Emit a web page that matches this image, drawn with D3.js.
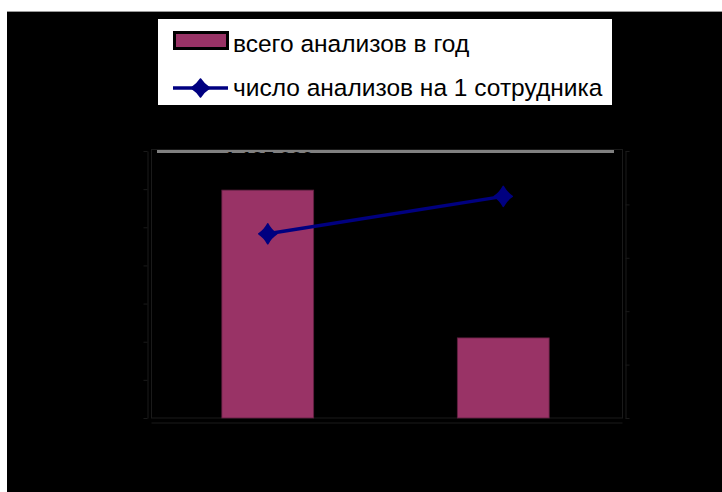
<!DOCTYPE html>
<html>
<head>
<meta charset="utf-8">
<script src="https://cdn.jsdelivr.net/npm/d3@7"></script>
<style>
  body { margin: 0; background: #fff; }
  svg { display: block; font-family: 'Liberation Sans', Arial, sans-serif; }
</style>
</head>
<body>
<div class="canvas"></div>
<script>
const categories = ['2009', '2010'];
const totalTests = [1195000, 420000];
const testsPerEmployee = [3450, 4150];
const leftTicks = [0, 200000, 400000, 600000, 800000, 1000000, 1200000, 1400000];
const rightTicks = [0, 1000, 2000, 3000, 4000, 5000];
const legendLabels = ['всего анализов в год', 'число анализов на 1 сотрудника'];

const width = 722, height = 492;
const plotL = 151, plotR = 622, plotT = 151, plotB = 418;

const svg = d3.select('.canvas')
    .append('svg')
    .attr('width', width)
    .attr('height', height)
    ;

// black panel
svg.append('rect')
    .attr('x', 7).attr('y', 11)
    .attr('width', width - 7).attr('height', height - 11)
    .attr('fill', '#000');
svg.append('line')
    .attr('x1', 7).attr('x2', width).attr('y1', 11.5).attr('y2', 11.5)
    .attr('stroke', '#9a9a9a');

const xScale = d3.scaleBand()
    .domain(categories)
    .range([plotL, plotR])
    ;
const barW = xScale.bandwidth() * 0.39;

const yLeft = d3.scaleLinear()
    .domain([0, d3.max(leftTicks)])
    .range([plotB, plotT])
    ;
const yRight = d3.scaleLinear()
    .domain([0, d3.max(rightTicks)])
    .range([plotB, plotT])
    ;

// plot area frame
svg.append('rect')
    .attr('x', plotL + 0.5).attr('y', plotT - 1.5)
    .attr('width', plotR - plotL).attr('height', plotB - plotT + 1.5)
    .attr('fill', 'none')
    .attr('stroke', '#1a1a1a');

// gridline at the top value
svg.append('rect')
    .attr('x', plotL + 6).attr('y', yLeft(d3.max(leftTicks)) - 1)
    .attr('width', plotR - plotL - 14).attr('height', 3)
    .attr('fill', '#808080');

//Add axes
const axisColor = '#1a1a1a';
svg.append('g')
    .attr('transform', `translate(147.5, 0)`)
    .call(d3.axisLeft(yLeft).tickValues(leftTicks).tickSize(4).tickSizeOuter(0)
        .tickFormat(d => d3.format(',')(d).replace(/,/g, ' ')))
    .call(g => g.select('.domain').attr('stroke', axisColor))
    .call(g => g.selectAll('.tick line').attr('stroke', axisColor))
    .call(g => g.selectAll('.tick text').attr('fill', '#000').attr('font-size', 14))
    ;
svg.append('g')
    .attr('transform', `translate(625.5, 0)`)
    .call(d3.axisRight(yRight).tickValues(rightTicks).tickSize(4).tickSizeOuter(0))
    .call(g => g.select('.domain').attr('stroke', axisColor))
    .call(g => g.selectAll('.tick line').attr('stroke', axisColor))
    .call(g => g.selectAll('.tick text').attr('fill', '#000').attr('font-size', 14))
    ;
svg.append('g')
    .attr('transform', `translate(0, 422.5)`)
    .call(d3.axisBottom(xScale).tickSize(0).tickSizeOuter(0))
    .call(g => g.select('.domain').attr('stroke', axisColor))
    .call(g => g.selectAll('.tick text').attr('fill', '#000').attr('font-size', 16).attr('dy', '1.2em'))
    ;

//Add bars
svg.selectAll('.bar')
    .data(totalTests)
    .enter()
    .append('rect')
    .attr('class', 'bar')
    .attr('x', (d, i) => xScale(categories[i]) + xScale.bandwidth() / 2 - barW / 2 - 1)
    .attr('y', d => yLeft(d))
    .attr('width', barW)
    .attr('height', d => plotB - yLeft(d))
    .attr('fill', '#993366')
    .attr('stroke', '#5e1f40')
    .attr('stroke-width', 0.8)
    ;

// bar value labels (black on black)
svg.selectAll('.bar-label')
    .data(totalTests)
    .enter()
    .append('text')
    .attr('class', 'bar-label')
    .attr('x', (d, i) => xScale(categories[i]) + xScale.bandwidth() / 2)
    .attr('y', d => yLeft(d) - 24)
    .attr('text-anchor', 'middle')
    .attr('font-size', 20)
    .attr('font-weight', 'bold')
    .attr('fill', '#000')
    .text(d => d3.format(',')(d).replace(/,/g, ' '))
    ;

//Add line
const diamond = (cx, cy, rx, ry) =>
    `M${cx},${cy - ry}Q${cx + 3.5},${cy - 3.5} ${cx + rx},${cy}Q${cx + 3.5},${cy + 3.5} ${cx},${cy + ry}` +
    `Q${cx - 3.5},${cy + 3.5} ${cx - rx},${cy}Q${cx - 3.5},${cy - 3.5} ${cx},${cy - ry}Z`;

const lineGen = d3.line()
    .x((d, i) => xScale(categories[i]) + xScale.bandwidth() / 2 - 1)
    .y(d => yRight(d))
    ;
svg.append('path')
    .datum(testsPerEmployee)
    .attr('d', lineGen)
    .attr('fill', 'none')
    .attr('stroke', '#000080')
    .attr('stroke-width', 3.5)
    ;
svg.selectAll('.marker')
    .data(testsPerEmployee)
    .enter()
    .append('path')
    .attr('class', 'marker')
    .attr('d', (d, i) => diamond(xScale(categories[i]) + xScale.bandwidth() / 2 - 1, yRight(d), 9, 10))
    .attr('fill', '#000080')
    .attr('stroke', '#000080')
    .attr('stroke-width', 1.5)
    .attr('stroke-linejoin', 'round')
    ;

//Add legend
svg.append('g')
    .attr('id', 'legend')
    .call(g => {
        g.append('rect')
            .attr('x', 158).attr('y', 19)
            .attr('width', 454).attr('height', 86)
            .attr('fill', '#fff');
        g.append('rect')
            .attr('x', 174.5).attr('y', 32.5)
            .attr('width', 53).attr('height', 16)
            .attr('fill', '#993366')
            .attr('stroke', '#000')
            .attr('stroke-width', 3);
        g.append('line')
            .attr('x1', 173).attr('x2', 228)
            .attr('y1', 88).attr('y2', 88)
            .attr('stroke', '#000080')
            .attr('stroke-width', 3.5);
        g.append('path')
            .attr('d', diamond(200.5, 88, 9, 9))
            .attr('fill', '#000080')
            .attr('stroke', '#000080')
            .attr('stroke-width', 1.5)
            .attr('stroke-linejoin', 'round');
        g.selectAll('.legend-label')
            .data(legendLabels)
            .enter()
            .append('text')
            .attr('class', 'legend-label')
            .attr('x', 233)
            .attr('y', (d, i) => 52 + i * 44)
            .attr('font-size', 24.5)
            .attr('fill', '#000')
            .text(d => d);
    })
    ;
</script>
</body>
</html>
